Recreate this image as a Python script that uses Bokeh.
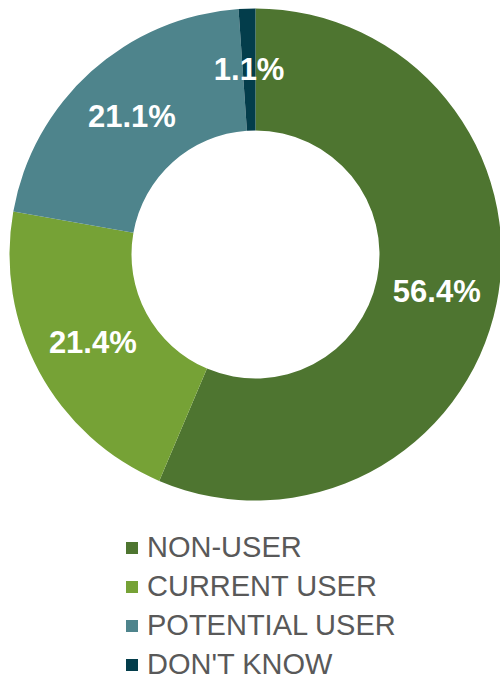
import math
from bokeh.plotting import figure
from bokeh.models import ColumnDataSource, Range1d, Legend, LegendItem
from bokeh.core.properties import value
from bokeh.embed import file_html
from bokeh.resources import INLINE

categories = ["NON-USER", "CURRENT USER", "POTENTIAL USER", "DON'T KNOW"]
shares = [56.4, 21.4, 21.1, 1.1]
colors = ["#4E7530", "#76A236", "#4E848C", "#033D4B"]
labels = ["56.4%", "21.4%", "21.1%", "1.1%"]

W, H = 500, 680
cx, cy = 255, H - 254
r_out, r_in = 246, 124

total = sum(shares)
starts, ends, lx, ly = [], [], [], []
cum = 0.0
for s in shares:
    a0 = math.pi / 2 - 2 * math.pi * cum / total
    a1 = math.pi / 2 - 2 * math.pi * (cum + s) / total
    starts.append(a0)
    ends.append(a1)
    mid = (a0 + a1) / 2
    rm = (r_out + r_in) / 2
    lx.append(cx + rm * math.cos(mid))
    ly.append(cy + rm * math.sin(mid))
    cum += s

src = ColumnDataSource(dict(cat=categories, share=shares, color=colors,
                            start=starts, end=ends, lx=lx, ly=ly, lab=labels,
                            x=[cx] * 4, y=[cy] * 4))

p = figure(width=W, height=H, output_backend="svg", toolbar_location=None,
           x_range=Range1d(0, W), y_range=Range1d(0, H), min_border=0)
p.axis.visible = False
p.grid.visible = False
p.outline_line_color = None
p.background_fill_color = "white"

r = p.annular_wedge(x="x", y="y", inner_radius=r_in, outer_radius=r_out,
                    start_angle="start", end_angle="end", direction="clock",
                    fill_color="color", line_color=None, source=src)

p.text(x="lx", y="ly", text="lab", source=src, text_color="white",
       text_font=value("Liberation Sans"), text_font_style="bold",
       text_font_size="31px", text_align="center", text_baseline="middle")

items = [LegendItem(label=c, renderers=[r], index=i) for i, c in enumerate(categories)]
legend = Legend(items=items, location=(124, -4), orientation="vertical",
                glyph_width=15, glyph_height=15, label_standoff=8,
                label_height=39, spacing=0, padding=0, margin=0,
                label_text_font="Liberation Sans", label_text_font_size="29px",
                label_text_color="#595959", label_text_baseline="middle",
                border_line_color=None, background_fill_alpha=0)
p.add_layout(legend, "center")

open("out.html", "w").write(file_html(p, INLINE))
